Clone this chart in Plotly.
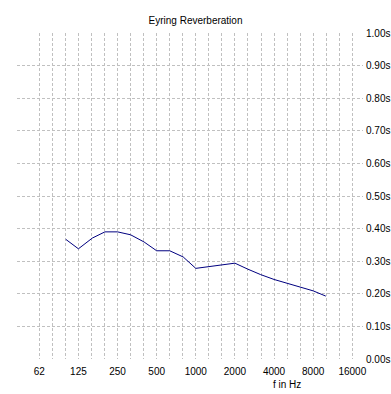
import math
import plotly.graph_objects as go

# Data (1/3-octave bands, Hz) and Eyring reverberation time (s)
freqs = [100, 125, 160, 200, 250, 315, 400, 500, 630, 800, 1000, 1250, 1600,
         2000, 2500, 3150, 4000, 5000, 6300, 8000, 10000]
rt_eyring = [0.367, 0.338, 0.371, 0.390, 0.390, 0.381, 0.359, 0.332, 0.332, 0.313,
             0.278, 0.283, 0.290, 0.294, 0.276, 0.259, 0.244, 0.233, 0.221, 0.209, 0.193]

octave_labels = ["62", "125", "250", "500", "1000", "2000", "4000", "8000", "16000"]
y_ticks = [0.0, 0.1, 0.2, 0.3, 0.4, 0.5, 0.6, 0.7, 0.8, 0.9, 1.0]

# third-octave grid from 62.5 Hz to 16 kHz
grid_vals = [62.5 * 2 ** (k / 3) for k in range(25)]
grid_text = [octave_labels[k // 3] if k % 3 == 0 else "" for k in range(25)]

W, H = 391, 394
L, R, T, B = 17, 28, 33, 35

fig = go.Figure()
fig.add_trace(go.Scatter(x=freqs, y=rt_eyring, mode="lines",
                         line=dict(color="#000080", width=1), hoverinfo="skip"))

font = dict(family="Liberation Sans, Arial, sans-serif", size=10, color="black")

fig.update_layout(
    width=W, height=H,
    margin=dict(l=L, r=R, t=T, b=B, pad=0, autoexpand=False),
    paper_bgcolor="white", plot_bgcolor="white",
    showlegend=False,
    font=font,
    title=dict(text="Eyring Reverberation", x=0.5, xanchor="center",
               y=1 - 20 / H, yanchor="middle", yref="container",
               font=dict(family="Liberation Sans, Arial, sans-serif", size=10, color="black")),
    xaxis=dict(type="log", range=[1.6244, 4.2864], automargin=False,
               tickmode="array", tickvals=grid_vals, ticktext=grid_text,
               showgrid=True, gridcolor="#c0c0c0", griddash="3px,2px", gridwidth=1,
               zeroline=False, showline=False, ticks="", ticklabelstandoff=5,
               tickfont=font),
    yaxis=dict(range=[0, 1], side="right", automargin=False,
               tickmode="array", tickvals=y_ticks,
               ticktext=[f"{v:.2f}s" for v in y_ticks],
               showgrid=True, gridcolor="#c0c0c0", griddash="3px,2px", gridwidth=1,
               zeroline=False, showline=False, ticks="", ticklabelstandoff=2,
               tickfont=font),
    annotations=[dict(text="f in Hz", xref="paper", yref="paper",
                      x=(287 - L) / (W - L - R), y=-(384 - (H - B)) / (H - T - B),
                      xanchor="center", yanchor="middle", showarrow=False, font=font)],
)

fig.write_html("out.html", config={"displayModeBar": False},
               post_script="document.body.style.margin='0';document.body.style.overflow='hidden';")
